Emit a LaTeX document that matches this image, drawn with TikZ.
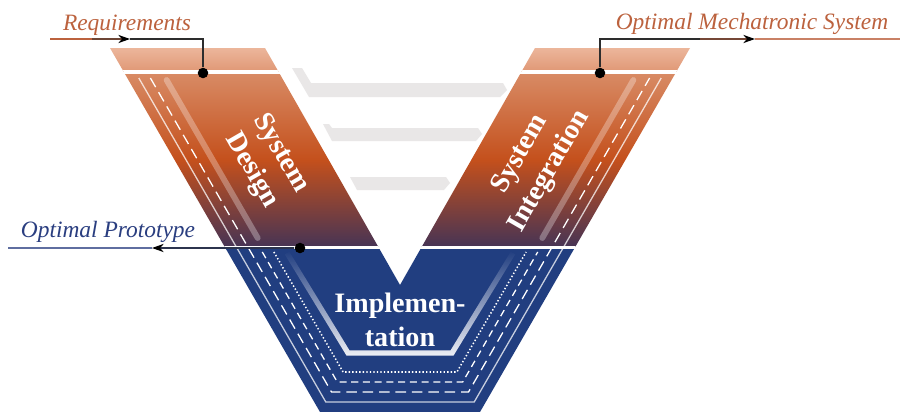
\documentclass[tikz,border=0pt]{standalone}
\usepackage{fontspec}
\setmainfont{Liberation Serif}
\usetikzlibrary{arrows.meta,fadings}

\definecolor{bandtop}{RGB}{236,182,155}
\definecolor{bandbottom}{RGB}{224,152,118}
\definecolor{toporange}{RGB}{216,138,100}
\definecolor{midorange}{RGB}{196,80,28}
\definecolor{lowbrown}{RGB}{72,52,84}
\definecolor{vblue}{RGB}{33,62,128}
\definecolor{labelorange}{RGB}{188,98,62}
\definecolor{labelblue}{RGB}{42,62,128}
\definecolor{linegray}{RGB}{45,45,45}
\definecolor{loopgray}{RGB}{233,231,231}

\begin{document}
\begin{tikzpicture}
    [x=0.03cm,y=-0.03cm,
     joint/.style={circle,fill=black,inner sep=0pt,minimum size=9pt},
     phase/.style={text=white,align=center,font=\fontsize{24}{29}\selectfont\bfseries},
     flowlabel/.style={anchor=base,font=\fontsize{20}{24}\selectfont\itshape},
     flow/.style={line width=1.5pt},
     flowtip/.style={-{Stealth[length=10pt,width=7pt,color=black]}},
     trace/.style={white,line width=1.1pt},
     loopbar/.style={fill=loopgray}]

    \fill[white] (0,0) rectangle (900,412);
    \useasboundingbox (0,0) rectangle (900,412);

    % feedback bars between the arms
    \fill[loopbar] (292,68) -- (302,68) -- (311,83) -- (503,83) -- (507,90) -- (500,97) -- (309,97) -- cycle;
    \fill[loopbar] (323,124) -- (329,124) -- (332,128) -- (478,128) -- (482,134) -- (476,141) -- (332,141) -- cycle;
    \fill[loopbar] (350,177) -- (446,177) -- (450,183) -- (444,190) -- (357,190) -- cycle;

    % the V body
    \begin{scope}
        \clip (110,48) -- (265,48) -- (400,285) -- (535,48) -- (690,48) -- (480,412) -- (320,412) -- cycle;
        \shade[top color=bandtop,bottom color=bandbottom] (0,48) rectangle (900,71);
        \shade[top color=toporange,bottom color=lowbrown,middle color=midorange] (0,74) rectangle (900,246);
        \fill[vblue] (0,249) rectangle (900,412);
        \fill[white] (0,70) rectangle (900,74);
        \fill[white] (0,246) rectangle (900,249);

        \draw[trace,opacity=.75] (138.8,78) -- (325.8,402) -- (474.2,402) -- (661.2,78);
        \draw[trace,dash pattern=on 9pt off 5pt] (150.4,78) -- (331.5,392) -- (468.5,392) -- (649.6,78);
        \draw[trace,dash pattern=on 6pt off 4pt] (262.3,252) -- (337.3,382) -- (462.7,382) -- (537.7,252);
        \draw[trace,line width=1.3pt,dash pattern=on 1.2pt off 1.8pt] (273.9,252) -- (343.1,372) -- (456.9,372) -- (526.1,252);

        \draw[white,opacity=.3,line width=5pt,line cap=round] (166.6,80) -- (257.7,238);
        \draw[white,opacity=.3,line width=5pt,line cap=round] (633.4,80) -- (542.3,238);
        \draw[white!92!vblue,line width=4.5pt,path fading=north] (287,253) -- (348,353) -- (452,353) -- (513,253);
    \end{scope}

    \node[phase,rotate=-60] (design) at (266,162) {System\\Design};
    \node[phase,rotate=60] (integ) at (535,163) {System\\Integration};
    \node[phase] (impl) at (400,320) {Implemen-\\tation};

    % inputs and outputs
    \node[joint] (reqdot) at (203,73) {};
    \node[joint] (mechdot) at (600,73) {};
    \node[joint] (protodot) at (300,248) {};

    \coordinate (reqin) at (50,39);
    \coordinate (reqfade) at (92,39);
    \coordinate (reqmid) at (130,39);
    \coordinate (reqknee) at (203,39);
    \coordinate (mechknee) at (600,39);
    \coordinate (mechfade) at (700,39);
    \coordinate (mechmid) at (755,39);
    \coordinate (mechout) at (900,39);
    \coordinate (protomid) at (152,248);
    \coordinate (protoout) at (8,248);

    \draw[flow,linegray] (reqmid) -- (reqknee) -- (reqdot);
    \draw[flow,labelorange] (reqin) -- (reqfade);
    \draw[flow,labelorange!45!linegray,flowtip] (reqfade) -- (reqmid);

    \draw[flow,labelorange!80!white] (mechmid) -- (mechout);
    \draw[flow,linegray] (mechdot) -- (mechknee) -- (mechfade);
    \draw[flow,labelorange!50!linegray,flowtip] (mechfade) -- (mechmid);

    \draw[flow,labelblue!75!white] (protomid) -- (protoout);
    \draw[flow,labelblue!40!linegray,flowtip] (protodot) -- (protomid);

    \node[flowlabel,labelorange] (req) at (127,30) {Requirements};
    \node[flowlabel,labelorange] (mech) at (752,29) {Optimal Mechatronic System};
    \node[flowlabel,labelblue] (proto) at (108,237) {Optimal Prototype};

\end{tikzpicture}
\end{document}
